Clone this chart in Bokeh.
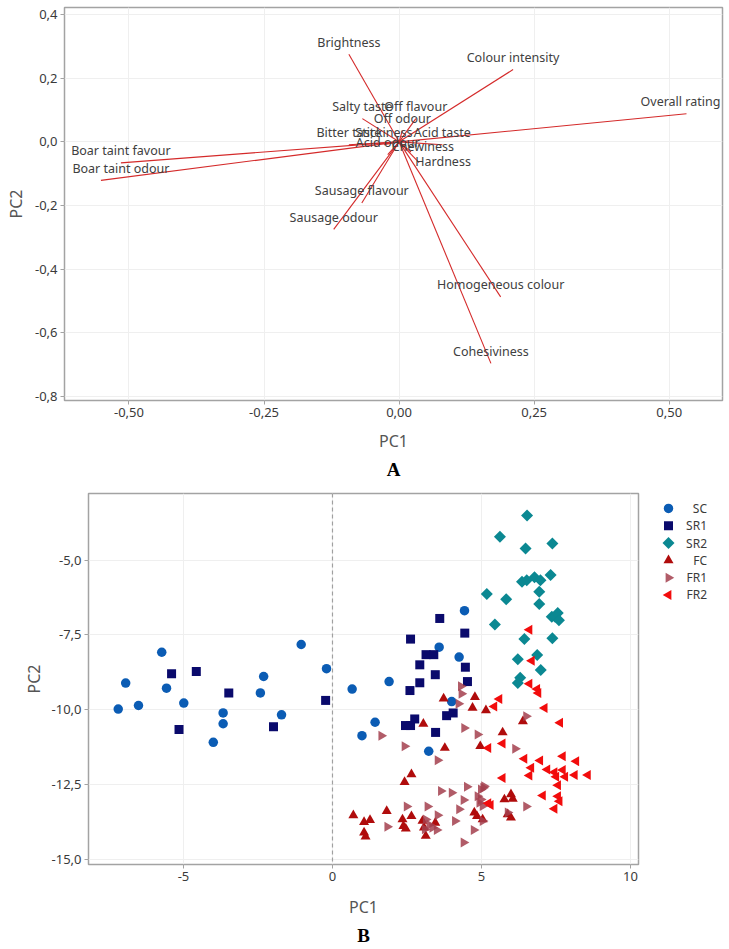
import numpy as np
from bokeh.plotting import figure
from bokeh.models import (ColumnDataSource, FixedTicker, CustomJSTickFormatter, Span, Title, LabelSet)
from bokeh.layouts import row
from bokeh.core.properties import value
from bokeh.embed import file_html
from bokeh.resources import INLINE

# ---------------- Panel A: loadings ----------------
variables = ["Overall rating", "Boar taint favour", "Boar taint odour", "Brightness",
             "Colour intensity", "Homogeneous colour", "Cohesiviness", "Sausage flavour",
             "Sausage odour", "Salty taste", "Off flavour", "Off odour", "Bitter taste",
             "Stickiness", "Acid taste", "Acid odour", "Chewiness", "Hardness"]
loading_pc1 = [0.532, -0.515, -0.552, -0.093, 0.211, 0.188, 0.170, -0.069, -0.121,
               -0.068, 0.031, 0.006, -0.093, -0.028, 0.080, -0.021, 0.022, 0.037]
loading_pc2 = [0.088, -0.066, -0.121, 0.275, 0.227, -0.487, -0.696, -0.192, -0.275,
               0.073, 0.073, 0.035, -0.009, -0.009, -0.009, -0.040, -0.032, -0.065]
a_xticks = [-0.5, -0.25, 0.0, 0.25, 0.5]
a_yticks = [0.4, 0.2, 0.0, -0.2, -0.4, -0.6, -0.8]

# label nudges in screen pixels (layout only; positive dy = upwards)
label_dx = [-6, 0, 20, 0, 0, 0, 0, 0, 0, 0, 0, 0, 0, 0, 0, 0, 12, 24]
label_dy = [12, 12, 12, 12, 12, 12, 12, 12, 12, 12, 12, 12, 12, 12, 12, 12, 6, 1]

# ---------------- Panel B: scores ----------------
sc_pc1 = [-7.19, -6.94, -6.51, -5.73, -5.57, -4.99, -3.67, -3.67, -4.00, -2.31, -2.42, -1.71,
          -1.05, -0.20, 0.66, 1.90, 1.43, 0.99, 3.23, 4.00, 3.58, 4.25, 4.43]
sc_pc2 = [-9.98, -9.11, -9.86, -8.08, -9.28, -9.78, -10.11, -10.47, -11.09, -8.89, -9.44, -10.17,
          -7.82, -8.63, -9.31, -9.06, -10.42, -10.87, -11.39, -9.73, -7.91, -8.24, -6.69]

sr1_pc1 = [-5.40, -4.57, -3.48, -5.15, -1.98, -0.23, 3.60, 4.44, 2.62, 3.14, 3.40, 2.93,
           3.45, 4.46, 2.93, 2.60, 4.53, 3.83, 4.05, 2.76, 2.62, 2.45, 3.46]
sr1_pc2 = [-8.80, -8.72, -9.44, -10.66, -10.57, -9.69, -6.95, -7.44, -7.64, -8.16, -8.16, -8.50,
           -8.83, -8.58, -9.10, -9.36, -9.06, -10.20, -10.11, -10.31, -10.53, -10.53, -10.76]

sr2_pc1 = [6.53, 5.62, 6.48, 7.38, 6.36, 6.52, 6.78, 6.98, 7.32, 6.94, 5.18, 5.83, 6.94,
           5.45, 7.36, 7.47, 7.56, 7.60, 6.44, 7.38, 6.22, 6.87, 6.99, 6.30, 6.22]
sr2_pc2 = [-3.51, -4.22, -4.61, -4.44, -5.72, -5.67, -5.57, -5.67, -5.50, -6.06, -6.13, -6.31, -6.47,
           -7.15, -6.89, -6.89, -6.77, -7.01, -7.64, -7.61, -8.31, -8.17, -8.67, -8.93, -9.11]

fc_pc1 = [3.73, 4.78, 4.70, 5.15, 3.05, 6.39, 5.71, 3.77, 4.96, 2.65, 2.42, 0.70, 1.06, 1.26,
          1.06, 1.11, 1.82, 2.35, 2.38, 2.46, 2.65, 3.02, 3.07, 3.13, 3.45, 4.76, 4.85, 5.04,
          5.99, 6.05, 5.77, 5.88, 5.99]
fc_pc2 = [-9.63, -9.58, -9.94, -10.02, -10.47, -10.39, -10.76, -11.28, -11.22, -12.16, -12.42,
          -13.53, -13.76, -13.69, -14.11, -14.24, -13.39, -13.67, -13.89, -13.98, -13.56, -13.72,
          -13.94, -14.22, -13.78, -13.44, -13.56, -13.67, -12.83, -12.98, -13.00, -13.50, -13.61]

fr1_pc1 = [4.31, 4.33, 4.23, 4.42, 4.87, 1.64, 2.42, 3.53, 6.50, 6.13, 3.64, 4.00, 4.51, 4.40,
           2.49, 3.19, 4.25, 3.53, 1.84, 4.11, 3.13, 3.25, 3.10, 3.35, 3.50, 4.74, 4.87, 4.98,
           5.09, 4.93, 5.04, 5.06, 6.50, 5.88, 5.04, 4.40, 4.98]
fr1_pc2 = [-9.22, -9.47, -9.80, -10.61, -10.83, -10.87, -11.22, -11.69, -10.22, -11.31, -12.72,
           -12.78, -12.58, -13.02, -13.24, -13.24, -13.33, -13.53, -13.91, -13.72, -13.67, -13.85,
           -14.00, -13.95, -14.02, -14.02, -12.89, -12.67, -12.56, -13.11, -13.22, -12.61, -13.24,
           -13.44, -13.72, -14.44, -13.00]

fr2_pc1 = [6.61, 6.69, 6.61, 6.87, 6.91, 5.60, 5.43, 7.12, 7.64, 5.23, 5.71, 6.44, 6.97, 7.73,
           8.18, 6.67, 6.61, 7.21, 7.45, 7.73, 7.51, 7.81, 8.13, 8.57, 5.71, 7.57, 7.06, 7.57,
           7.62, 7.45, 5.23, 5.31]
fr2_pc2 = [-7.33, -8.36, -9.13, -9.31, -9.44, -9.64, -9.89, -9.94, -10.44, -11.28, -11.13, -11.64,
           -11.70, -11.56, -11.72, -11.94, -12.20, -12.00, -12.09, -12.02, -12.24, -12.24, -12.18,
           -12.18, -12.28, -12.53, -12.87, -12.89, -13.06, -13.31, -13.13, -13.19]

groups = ["SC", "SR1", "SR2", "FC", "FR1", "FR2"]
b_xticks = [-5, 0, 5, 10]
b_yticks = [-5.0, -7.5, -10.0, -12.5, -15.0]

FONT = "Noto Sans"


def style(p, xdec, ydec, xlabel_standoff, ylabel_standoff):
    p.background_fill_color = "white"
    p.border_fill_color = "white"
    p.outline_line_color = "#A3A3A3"
    p.outline_line_width = 1.5
    p.xgrid.grid_line_color = "#EFEFEF"
    p.ygrid.grid_line_color = "#EFEFEF"
    p.xaxis.formatter = CustomJSTickFormatter(code="return tick.toFixed(%d).replace('.', ',')" % xdec)
    p.yaxis.formatter = CustomJSTickFormatter(code="return tick.toFixed(%d).replace('.', ',')" % ydec)
    for ax in (p.xaxis[0], p.yaxis[0]):
        ax.axis_line_color = None
        ax.major_tick_line_color = "#A3A3A3"
        ax.major_tick_out = 4
        ax.major_tick_in = 0
        ax.minor_tick_line_color = None
        ax.major_label_standoff = 3
        ax.major_label_text_font = FONT
        ax.major_label_text_font_size = "13px"
        ax.major_label_text_color = "#3A3A3A"
        ax.axis_label_text_font = FONT
        ax.axis_label_text_font_size = "16px"
        ax.axis_label_text_font_style = "normal"
        ax.axis_label_text_color = "#555555"
    p.xaxis[0].axis_label_standoff = xlabel_standoff
    p.yaxis[0].axis_label_standoff = ylabel_standoff


# ---------------- figure A ----------------
pa = figure(width=729, height=487, x_range=(-0.6194, 0.5987), y_range=(-0.8126, 0.422),
            output_backend="svg", toolbar_location=None,
            min_border_left=64, min_border_right=7, min_border_top=7, min_border_bottom=87,
            x_axis_label="PC1", y_axis_label="PC2")
style(pa, 2, 1, 10, 5)
pa.xaxis.ticker = FixedTicker(ticks=a_xticks)
pa.yaxis.ticker = FixedTicker(ticks=a_yticks)

srcA = ColumnDataSource(dict(x0=[0.0] * len(variables), y0=[0.0] * len(variables),
                             x=loading_pc1, y=loading_pc2, name=variables,
                             dx=label_dx, dy=label_dy))
pa.segment(x0="x0", y0="y0", x1="x", y1="y", source=srcA, line_color="#D42A2A", line_width=1.1)
pa.add_layout(LabelSet(x="x", y="y", text="name", source=srcA, x_offset="dx", y_offset="dy",
                       text_align="center", text_baseline="middle", text_font=value(FONT),
                       text_font_size="12.5px", text_color="#404040"))
pa.add_layout(Title(text="A", align="center", text_font="Liberation Serif", text_font_size="19px",
                    text_font_style="bold", text_color="black", standoff=4), "below")

# ---------------- figure B ----------------
pb = figure(width=648, height=460, x_range=(-8.188, 10.27), y_range=(-15.176, -2.772),
            output_backend="svg", toolbar_location=None,
            min_border_left=88, min_border_right=10, min_border_top=6, min_border_bottom=81,
            x_axis_label="PC1", y_axis_label="PC2")
style(pb, 0, 1, 12, 4)
pb.xaxis.ticker = FixedTicker(ticks=b_xticks)
pb.yaxis.ticker = FixedTicker(ticks=b_yticks)
pb.add_layout(Span(location=0, dimension="height", line_color="#A0A0A0",
                   line_dash="4 3", line_width=1.2))

specs = [
    (sc_pc1, sc_pc2, dict(marker="circle", size=9.5, color="#0B5CB4")),
    (sr1_pc1, sr1_pc2, dict(marker="square", size=9, color="#0A0A6C")),
    (sr2_pc1, sr2_pc2, dict(marker="square", size=8.5, angle=np.pi / 4, color="#0B8892")),
    (fc_pc1, fc_pc2, dict(marker="triangle", size=10, color="#B00C0C")),
    (fr1_pc1, fr1_pc2, dict(marker="triangle", size=10, angle=-np.pi / 2, color="#A3404D", alpha=0.85)),
    (fr2_pc1, fr2_pc2, dict(marker="triangle", size=10, angle=np.pi / 2, color="#F20C0C")),
]
for xs, ys, kw in specs:
    pb.scatter(xs, ys, line_color=None, **kw)

pb.add_layout(Title(text="B", align="center", offset=10, text_font="Liberation Serif",
                    text_font_size="19px", text_font_style="bold", text_color="black",
                    standoff=4), "below")

# ---------------- legend panel (keys drawn with the same marker specs) ----------------
FRAME_H = 460 - 6 - 81
pleg = figure(width=81, height=460, x_range=(0, 81), y_range=(0, FRAME_H),
              output_backend="svg", toolbar_location=None, x_axis_type=None, y_axis_type=None,
              min_border_left=0, min_border_right=0, min_border_top=6, min_border_bottom=81)
pleg.outline_line_color = None
pleg.grid.visible = False
pleg.background_fill_color = "white"
pleg.border_fill_color = "white"
for i, (g, (_, _, kw)) in enumerate(zip(groups, specs)):
    ky = FRAME_H - 15 - 17.4 * i
    pleg.scatter([20], [ky], line_color=None, **kw)
    pleg.text([58.5], [ky], text=[g], text_align="right", text_baseline="middle",
              text_font=value(FONT), text_font_size="12px", text_color="#3A3A3A")

open("out.html", "w").write(file_html([pa, row(pb, pleg)], INLINE))
